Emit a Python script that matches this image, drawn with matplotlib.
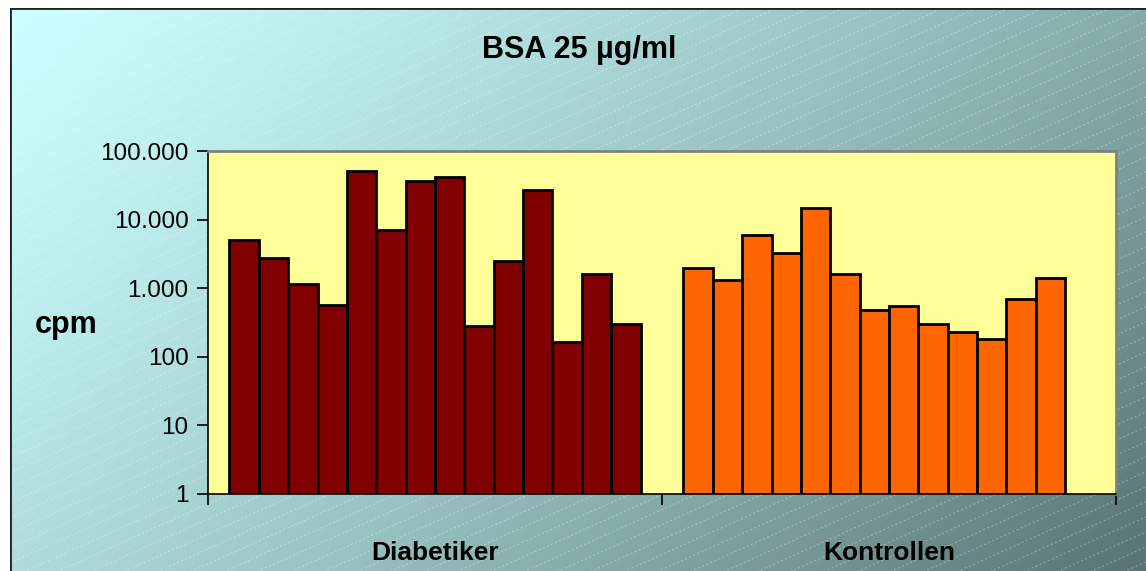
import numpy as np
import matplotlib
matplotlib.use("Agg")
import matplotlib.pyplot as plt
from matplotlib.ticker import FixedLocator, FuncFormatter, NullLocator

plt.rcParams['font.family'] = ['Liberation Sans', 'DejaVu Sans']

title = "BSA 25 µg/ml"
categories = ["Diabetiker", "Kontrollen"]
diabetiker = [5000, 2800, 1140, 570, 51000, 7050, 36500, 42300, 284, 2490, 27300, 166, 1590, 298]
kontrollen = [1990, 1320, 5900, 3300, 14900, 1600, 481, 550, 298, 229, 182, 704, 1420]
yticks = [1, 10, 100, 1000, 10000, 100000]
ylabel = "cpm"

W, H = 1146, 571
fig = plt.figure(figsize=(W / 100, H / 100), dpi=100)
fig.patch.set_facecolor("white")

# background gradient
bx0, by0 = 10, 8
bg = fig.add_axes([bx0 / W, 0, 1 - bx0 / W, (H - by0) / H], zorder=-5)
bw, bh = W - bx0, H - by0
xx, yy = np.meshgrid(np.linspace(0, 1, 300), np.linspace(0, 1, 150))
t = ((xx * bw + yy * bh) / (bw + bh)) ** 1.25
c0 = np.array([0xCC, 0xFF, 0xFF]) / 255
c1 = np.array([0x58, 0x74, 0x74]) / 255
img = c0[None, None, :] * (1 - t[..., None]) + c1[None, None, :] * t[..., None]
bg.imshow(img, extent=[0, bw, bh, 0], aspect='auto', interpolation='bilinear')
bg.set_xlim(0, bw)
bg.set_ylim(bh, 0)
slope = 0.45
for c in np.arange(-bw * slope, bh + 20, 15):
    xs = np.array([0, bw])
    ys = c - slope * xs + bw * slope
    bg.plot(xs, ys, color='white', alpha=0.3, lw=0.8, ls=(0, (2, 2)))
bg.plot([0, 0], [bh, 0], color='#202020', lw=2)
bg.plot([0, bw], [0, 0], color='#202020', lw=2)
bg.set_axis_off()

# main axes
x0, x1, y0, y1 = 208, 1116, 151, 494
ax = fig.add_axes([x0 / W, (H - y1) / H, (x1 - x0) / W, (y1 - y0) / H])
ax.set_facecolor("#FFFF99")
ax.set_yscale('log')
ax.set_ylim(1, 100000)
ax.set_xlim(0, 2)

nslots = 14
w = 0.0647
for gi, (vals, col) in enumerate([(diabetiker, "#800000"), (kontrollen, "#FF6600")]):
    vals = np.array(vals, dtype=float)
    pos = gi + 0.5 + (np.arange(len(vals)) - (nslots - 1) / 2) * w
    ax.bar(pos, vals - 1, bottom=1, width=w, color=col, edgecolor='black',
           linewidth=2, align='center', zorder=3)

ax.yaxis.set_major_locator(FixedLocator(yticks))
ax.yaxis.set_minor_locator(NullLocator())
ax.yaxis.set_major_formatter(FuncFormatter(lambda v, p: f"{int(round(v)):,}".replace(",", ".")))
ax.tick_params(axis='y', length=8, width=1.2, color='black', labelsize=17.5, pad=6, direction='out')

ax.xaxis.set_major_locator(FixedLocator([0, 1, 2]))
ax.xaxis.set_minor_locator(FixedLocator([0.5, 1.5]))
ax.xaxis.set_major_formatter(FuncFormatter(lambda v, p: ""))
ax.xaxis.set_minor_formatter(FuncFormatter(lambda v, p: categories[int(v)]))
ax.tick_params(axis='x', which='major', length=8, width=1.2, color='black')
ax.tick_params(axis='x', which='minor', length=0, pad=34, labelsize=19)
for lbl in ax.get_xticklabels(minor=True):
    lbl.set_fontweight('bold')

for s in ['top', 'right']:
    ax.spines[s].set_color('#808080')
    ax.spines[s].set_linewidth(2)
for s in ['left', 'bottom']:
    ax.spines[s].set_color('black')
    ax.spines[s].set_linewidth(1.2)

fig.text(579 / W, 1 - 50 / H, title, ha='center', va='center', fontsize=22, fontweight='bold')
fig.text(66 / W, 1 - 325 / H, ylabel, ha='center', va='center', fontsize=22, fontweight='bold')

fig.savefig("out.png", dpi=100)
